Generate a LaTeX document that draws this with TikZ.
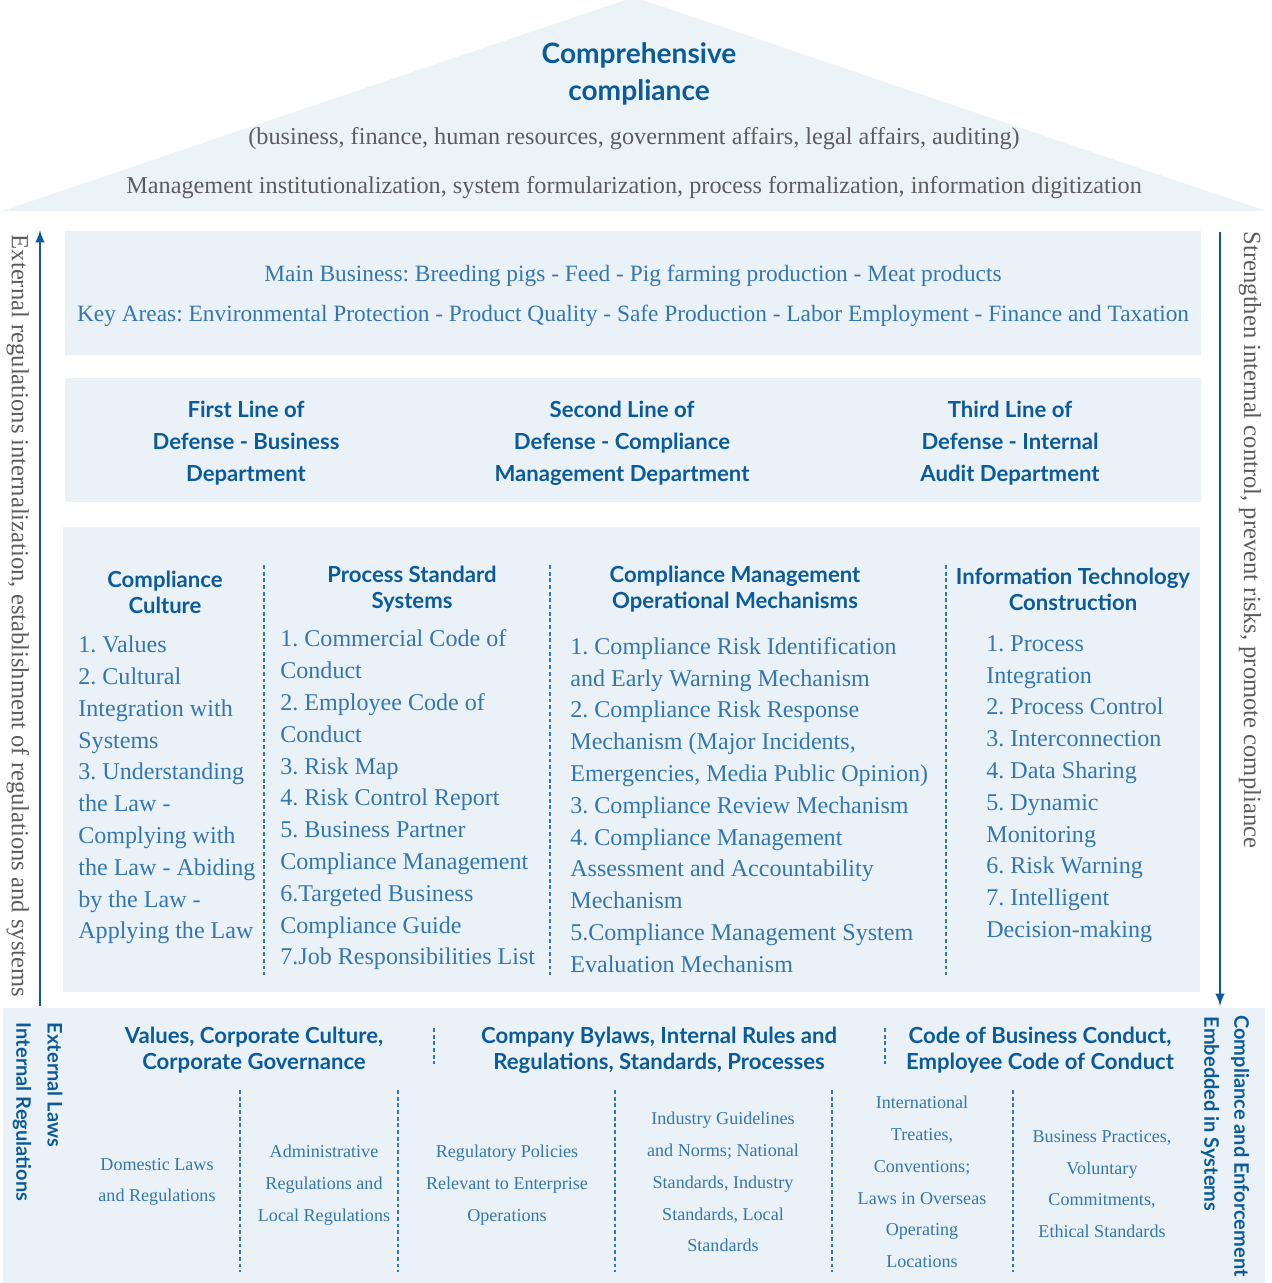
\documentclass[tikz,border=0pt]{standalone}
\usepackage{fontspec}
\setmainfont{Liberation Serif}
\newfontfamily\headfont{Lato}
\usetikzlibrary{positioning}
\definecolor{deepblue}{HTML}{0B5B9A}
\definecolor{textblue}{HTML}{3476AF}
\definecolor{softgrey}{HTML}{5C5C5C}
\definecolor{panel}{HTML}{EAF2F7}
\definecolor{roof}{HTML}{ECF3F7}
\frenchspacing
\begin{document}
\begin{tikzpicture}[x=0.02cm,y=-0.02cm,>=latex,
  hd/.style={font=\headfont\bfseries\fontsize{12.6}{14.7}\selectfont,text=deepblue,align=center,inner sep=0pt},
  hdwide/.style={hd,font=\headfont\bfseries\fontsize{12.6}{18.1}\selectfont},
  vhd/.style={hd,font=\headfont\bfseries\fontsize{11.4}{14}\selectfont,rotate=-90},
  lst/.style={font=\fontsize{13.7}{18.1}\selectfont,text=textblue,align=left,anchor=west,inner sep=0pt},
  sml/.style={font=\fontsize{10.3}{18.1}\selectfont,text=textblue,align=center,inner sep=0pt},
  gry/.style={font=\fontsize{13.8}{16}\selectfont,text=softgrey,inner sep=0pt},
  biz/.style={font=\fontsize{13.3}{16}\selectfont,text=textblue,inner sep=0pt},
  dashsep/.style={textblue,line width=1.2pt,dash pattern=on 2.2pt off 1.6pt}]
\useasboundingbox (0,0) rectangle (1271,1283);
% roof and panels
\fill[roof] (2,211) -- (634,-3) -- (1266,211) -- cycle;
\fill[panel] (65,231) rectangle (1201,355);
\fill[panel] (65,378) rectangle (1201,502);
\fill[panel] (63,527) rectangle (1200,992);
\fill[panel] (3,1008) rectangle (1265,1283);
% roof
\node[hd,font=\headfont\bfseries\fontsize{16}{21}\selectfont] (title) at (639,74) {Comprehensive\\compliance};
\node[gry] (scope) at (634,139) {(business, finance, human resources, government affairs, legal affairs, auditing)};
\node[gry] (digit) at (634,188) {Management institutionalization, system formularization, process formalization, information digitization};
% side arrows
\coordinate (lbot) at (40,1006);
\coordinate (ltop) at (40,230);
\coordinate (rtop) at (1220,232);
\coordinate (rbot) at (1220,1006);
\draw[->,deepblue,line width=1.4pt] (lbot) -- (ltop);
\draw[->,deepblue,line width=1.4pt] (rtop) -- (rbot);
\node[gry,font=\fontsize{14}{16}\selectfont,rotate=-90] (extreg) at (18,616) {External regulations internalization, establishment of regulations and systems};
\node[gry,font=\fontsize{14}{16}\selectfont,rotate=-90] (strong) at (1250,540) {Strengthen internal control, prevent risks, promote compliance};
% business
\node[biz] (mainbiz) at (633,276) {Main Business: Breeding pigs - Feed - Pig farming production - Meat products};
\node[biz] (keyarea) at (633,316) {Key Areas: Environmental Protection - Product Quality - Safe Production - Labor Employment - Finance and Taxation};
% lines of defense
\node[hdwide] (first) at (246,443) {First Line of\\Defense - Business\\Department};
\node[hdwide] (second) at (622,443) {Second Line of\\Defense - Compliance\\Management Department};
\node[hdwide] (third) at (1010,443) {Third Line of\\Defense - Internal\\Audit Department};
% four pillars
\node[hd] (culture) at (165,592) {Compliance\\Culture};
\node[hd] (process) at (412,589) {Process Standard\\Systems};
\node[hd] (mech) at (735,589) {Compliance Management\\Operational Mechanisms};
\node[hd] (infotech) at (1073,589) {Information Technology\\Construction};
\node[lst] (culturelist) at (78,790) {1. Values\\2. Cultural\\Integration with\\Systems\\3. Understanding\\the Law -\\Complying with\\the Law - Abiding\\by the Law -\\Applying the Law};
\node[lst] (processlist) at (280,800) {1. Commercial Code of\\Conduct\\2. Employee Code of\\Conduct\\3. Risk Map\\4. Risk Control Report\\5. Business Partner\\Compliance Management\\6.Targeted Business\\Compliance Guide\\7.Job Responsibilities List};
\node[lst] (mechlist) at (570,805) {1. Compliance Risk Identification\\and Early Warning Mechanism\\2. Compliance Risk Response\\Mechanism (Major Incidents,\\Emergencies, Media Public Opinion)\\3. Compliance Review Mechanism\\4. Compliance Management\\Assessment and Accountability\\Mechanism\\5.Compliance Management System\\Evaluation Mechanism};
\node[lst] (infolist) at (986,789) {1. Process\\Integration\\2. Process Control\\3. Interconnection\\4. Data Sharing\\5. Dynamic\\Monitoring\\6. Risk Warning\\7. Intelligent\\Decision-making};
\foreach \x in {264,550,946} \draw[dashsep] (\x,565) -- (\x,975);
% foundation
\node[vhd] (internal) at (22,1112) {Internal Regulations};
\node[vhd] (external) at (55,1085) {External Laws};
\node[vhd] (embedded) at (1210,1114) {Embedded in Systems};
\node[vhd] (enforce) at (1240,1146) {Compliance and Enforcement};
\node[hd] (values) at (254,1050.5) {Values, Corporate Culture,\\Corporate Governance};
\node[hd] (bylaws) at (659,1050.5) {Company Bylaws, Internal Rules and\\Regulations, Standards, Processes};
\node[hd] (conduct) at (1040,1050.5) {Code of Business Conduct,\\Employee Code of Conduct};
\foreach \x in {434,885} \draw[dashsep] (\x,1028) -- (\x,1064);
\node[sml] (domestic) at (157,1182) {Domestic Laws\\and Regulations};
\node[sml] (admin) at (324,1185) {Administrative\\Regulations and\\Local Regulations};
\node[sml] (policy) at (507,1185) {Regulatory Policies\\Relevant to Enterprise\\Operations};
\node[sml] (industry) at (723,1182) {Industry Guidelines\\and Norms; National\\Standards, Industry\\Standards, Local\\Standards};
\node[sml] (treaty) at (922,1182) {International\\Treaties,\\Conventions;\\Laws in Overseas\\Operating\\Locations};
\node[sml] (practice) at (1102,1184) {Business Practices,\\Voluntary\\Commitments,\\Ethical Standards};
\foreach \x in {240,398,615,832,1013} \draw[dashsep] (\x,1090) -- (\x,1272);
\end{tikzpicture}
\end{document}
